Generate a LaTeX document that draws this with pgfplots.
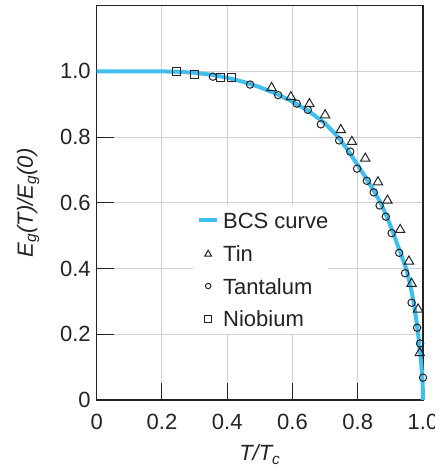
\documentclass[border=0pt]{standalone}
\usepackage{fontspec}
\setmainfont{Liberation Sans}
\usepackage{pgfplots}
\pgfplotsset{compat=1.18}
\definecolor{bcs}{RGB}{64,190,238}
\definecolor{grd}{RGB}{208,208,208}
\definecolor{ink}{RGB}{35,35,35}
\newcommand{\fs}{\fontsize{22}{26}\selectfont}

\begin{document}
\begin{tikzpicture}
\begin{axis}[
  at={(0,0)}, anchor=south west,
  scale only axis, width=326.3pt, height=394.3pt,
  xmin=0, xmax=1, ymin=0, ymax=1.2,
  xtick={0,0.2,0.4,0.6,0.8,1},
  xticklabels={0,0.2,0.4,0.6,0.8,1.0},
  ytick={0,0.2,0.4,0.6,0.8,1},
  yticklabels={0,0.2,0.4,0.6,0.8,1.0},
  tick align=inside, xtick pos=bottom, ytick pos=left,
  major tick length=17pt,
  tick style={ink, line width=1pt},
  grid=major, major grid style={grd, line width=1pt},
  axis line style={ink, line width=1.2pt},
  tick label style={font=\fs, text=ink},
  xticklabel style={yshift=-11pt},
  yticklabel style={xshift=-2.5pt},
  label style={font=\fs, text=ink},
  xlabel style={yshift=-8pt},
  ylabel style={yshift=14pt},
  xlabel={\textit{T/T\textsubscript{c}}},
  ylabel={\textit{E\textsubscript{g}(T)/E\textsubscript{g}(0)}},
  clip=false,
  legend cell align=left,
  legend style={at={(0.295,0.494)}, anchor=north west,
    fill=white, draw=none, inner xsep=0pt, inner ysep=7pt,
    font=\fs, text=ink, row sep=16.8pt,
    nodes={inner sep=0pt, text height=16pt, text depth=0pt}},
]
\addplot[bcs, line width=4pt,
  legend image code/.code={\draw[bcs, line width=4pt] (4pt,0pt)--(22pt,0pt); \path (0,0) (26pt,0);}]
  coordinates {
  (0,1.0) (0.1,1.0) (0.2,1.0) (0.25,0.999) (0.3,0.996) (0.35,0.990)
  (0.4,0.981) (0.45,0.968) (0.5,0.952) (0.55,0.932) (0.6,0.908)
  (0.65,0.879) (0.7,0.842) (0.74,0.800) (0.77,0.760) (0.8,0.715)
  (0.83,0.668) (0.85,0.636) (0.87,0.600) (0.89,0.556) (0.91,0.505)
  (0.93,0.450) (0.95,0.395) (0.96,0.355) (0.97,0.305) (0.98,0.240)
  (0.985,0.200) (0.99,0.155) (0.995,0.105) (0.998,0.066) (0.9995,0.033) (1.0,0.0)
  };
\addlegendentry{BCS curve}
\addplot[only marks, mark=triangle, mark size=5.4pt,
  mark options={draw=ink, fill=white, line width=1pt},
  legend image code/.code={\draw[mark size=4pt] plot coordinates {(13pt,-1pt)}; \path (0,0) (26pt,0);}]
  coordinates {
  (0.536,0.950) (0.595,0.922) (0.652,0.901) (0.700,0.867) (0.748,0.822)
  (0.782,0.786) (0.823,0.735) (0.862,0.663) (0.891,0.607) (0.930,0.518)
  (0.957,0.422) (0.965,0.354) (0.985,0.276) (0.990,0.143)
  };
\addlegendentry{Tin}
\addplot[only marks, mark=o, mark size=3.7pt,
  mark options={draw=ink, fill=white, line width=1pt},
  legend image code/.code={\draw[mark size=2.7pt] plot coordinates {(13pt,0pt)}; \path (0,0) (26pt,0);}]
  coordinates {
  (0.356,0.984) (0.470,0.960) (0.556,0.928) (0.613,0.902) (0.647,0.883)
  (0.687,0.839) (0.743,0.790) (0.777,0.756) (0.798,0.704) (0.828,0.667)
  (0.849,0.632) (0.867,0.592) (0.886,0.558) (0.904,0.508) (0.927,0.448)
  (0.945,0.386) (0.965,0.296) (0.982,0.220) (0.991,0.172) (1.000,0.068)
  };
\addlegendentry{Tantalum}
\addplot[only marks, mark=square, mark size=4pt,
  mark options={draw=ink, fill=white, line width=1pt},
  legend image code/.code={\draw[mark size=3.3pt] plot coordinates {(13pt,0pt)}; \path (0,0) (26pt,0);}]
  coordinates {
  (0.245,0.999) (0.299,0.990) (0.378,0.980) (0.412,0.981)
  };
\addlegendentry{Niobium}
\end{axis}
\pgfresetboundingbox
\useasboundingbox (-96.7pt,-66pt) rectangle (338.3pt,400pt);
\end{tikzpicture}
\end{document}
